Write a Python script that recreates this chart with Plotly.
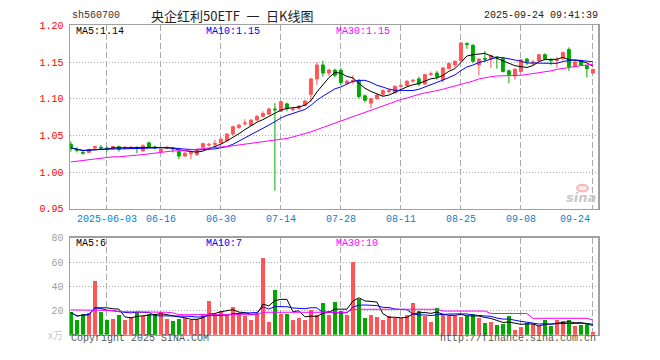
import plotly.graph_objects as go
import pandas as pd

# ---------------- data ----------------
month_days = {
    "05": [23, 26, 27, 28, 29, 30],
    "06": [3, 4, 5, 6, 9, 10, 11, 12, 13, 16, 17, 18, 19, 20, 23, 24, 25, 26, 27, 30],
    "07": [1, 2, 3, 4, 7, 8, 9, 10, 11, 14, 15, 16, 17, 18, 21, 22, 23, 24, 25, 28, 29, 30, 31],
    "08": [1, 4, 5, 6, 7, 8, 11, 12, 13, 14, 15, 18, 19, 20, 21, 22, 25, 26, 27, 28, 29],
    "09": [1, 2, 3, 4, 5, 8, 9, 10, 11, 12, 15, 16, 17, 18, 19, 22, 23, 24],
}
dates = [f"2025-{m}-{d:02d}" for m, ds in month_days.items() for d in ds]

opens = [1.038, 1.031, 1.027, 1.027, 1.033, 1.034, 1.033, 1.032, 1.035, 1.033,
         1.033, 1.034, 1.029, 1.040, 1.034, 1.028, 1.033, 1.033, 1.028, 1.022,
         1.025, 1.024, 1.034, 1.037, 1.038, 1.040, 1.043, 1.052, 1.061, 1.066,
         1.064, 1.071, 1.076, 1.079, 1.086, 1.083, 1.093, 1.085, 1.087, 1.091,
         1.106, 1.127, 1.146, 1.135, 1.139, 1.139, 1.121, 1.123, 1.125, 1.104,
         1.094, 1.100, 1.106, 1.110, 1.108, 1.117, 1.118, 1.124, 1.127, 1.120,
         1.133, 1.135, 1.126, 1.141, 1.146, 1.152, 1.175, 1.173, 1.146, 1.155,
         1.154, 1.157, 1.155, 1.138, 1.131, 1.137, 1.154, 1.149, 1.152, 1.160,
         1.153, 1.152, 1.155, 1.167, 1.144, 1.152, 1.145, 1.135]
highs = [1.042, 1.034, 1.030, 1.032, 1.036, 1.037, 1.035, 1.036, 1.036, 1.035,
         1.035, 1.035, 1.038, 1.041, 1.036, 1.032, 1.035, 1.034, 1.029, 1.027,
         1.029, 1.032, 1.040, 1.040, 1.044, 1.046, 1.053, 1.063, 1.066, 1.072,
         1.072, 1.078, 1.083, 1.088, 1.094, 1.097, 1.095, 1.088, 1.091, 1.098,
         1.128, 1.150, 1.152, 1.141, 1.141, 1.142, 1.126, 1.132, 1.127, 1.106,
         1.101, 1.107, 1.113, 1.114, 1.118, 1.120, 1.125, 1.127, 1.130, 1.134,
         1.137, 1.138, 1.143, 1.149, 1.152, 1.177, 1.177, 1.174, 1.155, 1.165,
         1.160, 1.158, 1.157, 1.140, 1.142, 1.154, 1.156, 1.153, 1.161, 1.162,
         1.155, 1.157, 1.164, 1.170, 1.151, 1.153, 1.146, 1.141]
lows = [1.028, 1.027, 1.024, 1.026, 1.031, 1.031, 1.028, 1.031, 1.028, 1.031,
        1.032, 1.026, 1.028, 1.033, 1.031, 1.027, 1.031, 1.027, 1.018, 1.021,
        1.018, 1.022, 1.033, 1.035, 1.035, 1.039, 1.042, 1.050, 1.059, 1.063,
        1.063, 1.070, 1.075, 1.078, 0.975, 1.082, 1.083, 1.083, 1.085, 1.090,
        1.096, 1.119, 1.130, 1.131, 1.129, 1.118, 1.119, 1.120, 1.100, 1.095,
        1.087, 1.099, 1.104, 1.107, 1.107, 1.115, 1.117, 1.122, 1.117, 1.119,
        1.131, 1.126, 1.122, 1.140, 1.142, 1.151, 1.168, 1.149, 1.132, 1.150,
        1.142, 1.141, 1.136, 1.121, 1.126, 1.136, 1.146, 1.145, 1.151, 1.152,
        1.146, 1.142, 1.152, 1.138, 1.143, 1.145, 1.129, 1.134]
closes = [1.033, 1.030, 1.026, 1.031, 1.035, 1.033, 1.032, 1.035, 1.031, 1.034,
          1.034, 1.033, 1.036, 1.034, 1.033, 1.031, 1.034, 1.032, 1.022, 1.026,
          1.027, 1.030, 1.039, 1.038, 1.039, 1.045, 1.052, 1.062, 1.064, 1.067,
          1.071, 1.076, 1.080, 1.086, 1.085, 1.096, 1.087, 1.086, 1.090, 1.097,
          1.127, 1.146, 1.135, 1.139, 1.132, 1.122, 1.124, 1.125, 1.103, 1.098,
          1.100, 1.105, 1.111, 1.111, 1.117, 1.118, 1.124, 1.125, 1.120, 1.133,
          1.134, 1.130, 1.142, 1.148, 1.151, 1.176, 1.174, 1.151, 1.154, 1.154,
          1.159, 1.156, 1.137, 1.133, 1.140, 1.153, 1.150, 1.150, 1.160, 1.154,
          1.152, 1.153, 1.163, 1.144, 1.150, 1.146, 1.141, 1.140]
# MA30 of price (history before the window not available)
ma30_price = [1.014, 1.015, 1.016, 1.017, 1.018, 1.019, 1.020, 1.021, 1.021, 1.022,
              1.023, 1.024, 1.024, 1.025, 1.026, 1.027, 1.028, 1.029, 1.029, 1.030,
              1.031, 1.031, 1.032, 1.033, 1.034, 1.035, 1.035, 1.036, 1.037, 1.038,
              1.039, 1.040, 1.041, 1.042, 1.044, 1.045, 1.046, 1.048, 1.050, 1.052,
              1.055, 1.058, 1.061, 1.064, 1.067, 1.070, 1.073, 1.076, 1.079, 1.082,
              1.085, 1.088, 1.091, 1.094, 1.097, 1.099, 1.101, 1.104, 1.106, 1.108,
              1.109, 1.111, 1.113, 1.115, 1.117, 1.119, 1.121, 1.124, 1.127, 1.129,
              1.130, 1.131, 1.131, 1.131, 1.131, 1.132, 1.133, 1.134, 1.136, 1.137,
              1.138, 1.140, 1.141, 1.143, 1.144, 1.145, 1.146, 1.147]
volumes = [18.4, 12.5, 17.3, 18.0, 44.5, 18.7, 12.5, 13.3, 16.5, 12.5,
           14.7, 18.4, 15.2, 17.3, 17.3, 18.7, 13.3, 10.9, 13.3, 13.9,
           12.0, 13.3, 17.3, 27.7, 17.3, 19.2, 16.5, 22.7, 17.3, 15.7,
           12.0, 17.3, 63.7, 10.4, 37.3, 17.3, 17.3, 12.5, 14.1, 12.5,
           20.3, 16.0, 26.1, 16.5, 26.9, 19.2, 16.5, 60.0, 29.9, 13.9,
           16.5, 14.7, 11.7, 15.2, 13.9, 13.9, 16.5, 26.1, 19.7, 15.5,
           10.1, 21.9, 17.3, 15.2, 15.2, 14.7, 15.7, 17.3, 13.9, 9.6,
           10.4, 7.7, 8.8, 15.7, 4.0, 6.4, 9.6, 8.5, 6.9, 11.7,
           6.9, 12.5, 10.9, 11.7, 6.9, 7.7, 8.5, 2.4]
ma30_volume = [20.5, 20.5, 20.5, 20, 20, 20, 20, 20, 19, 19,
               19, 19, 18.5, 18.5, 18.5, 18.5, 18.5, 18, 16.5, 16.5,
               16.5, 16.5, 16.5, 16.5, 16.5, 16.5, 16.5, 16.5, 16.5, 16.5,
               16.5, 16.5, 18.5, 18.5, 18.5, 18.5, 18.5, 18.5, 18.5, 18.5,
               18.5, 18.5, 18.5, 18.5, 18.5, 18.5, 18.5, 21, 21, 21,
               21, 21, 21, 21, 21, 21, 21, 21, 21, 21,
               21, 21, 19.5, 19.5, 19.5, 19.5, 19.5, 19.5, 19.5, 19.5,
               17.5, 17.5, 17.5, 17.5, 17.5, 17.5, 17.5, 13.5, 13.5, 13.5,
               13.5, 13.5, 13.5, 13.5, 13.5, 13.5, 13.5, 12]

tick_dates = ["2025-06-03", "2025-06-16", "2025-06-30", "2025-07-14", "2025-07-28",
              "2025-08-11", "2025-08-25", "2025-09-08", "2025-09-24"]
tick_labels = ["2025-06-03", "06-16", "06-30", "07-14", "07-28",
               "08-11", "08-25", "09-08", "09-24"]
price_ticks = [0.95, 1.00, 1.05, 1.10, 1.15, 1.20]
vol_ticks = [20, 40, 60, 80]

code = "sh560700"
title = "央企红利50ETF\u2002一\u2002日K线图"
stamp = "2025-09-24 09:41:39"
price_ma_text = ["MA5:1.14", "MA10:1.15", "MA30:1.15"]
vol_ma_text = ["MA5:6", "MA10:7", "MA30:10"]

# ---------------- derived ----------------
ma5 = pd.Series(closes).rolling(5, min_periods=1).mean()
ma10 = pd.Series(closes).rolling(10, min_periods=1).mean()
vma5 = pd.Series(volumes).rolling(5, min_periods=1).mean()
vma10 = pd.Series(volumes).rolling(10, min_periods=1).mean()

RED = "#FF5555"
GREEN = "#00A800"
vol_colors = [RED if c >= o else GREEN for o, c in zip(opens, closes)]

W, H = 660, 360
X0, X1 = 70, 598
PT, PB = 21, 211
VT, VB = 241, 341
MONO = "Liberation Mono"
GRID = "#ABABAB"
BORDER = "#A0A0A0"

fig = go.Figure()
fig.add_trace(go.Candlestick(
    x=dates, open=opens, high=highs, low=lows, close=closes,
    increasing=dict(line=dict(color=RED, width=1), fillcolor=RED),
    decreasing=dict(line=dict(color=GREEN, width=1), fillcolor=GREEN),
    whiskerwidth=0, xaxis="x", yaxis="y", hoverinfo="skip"))
for vals, col in [(ma5, "#000000"), (ma10, "#0000FF"), (ma30_price, "#FF00FF")]:
    fig.add_trace(go.Scatter(x=dates, y=list(vals), mode="lines",
                             line=dict(color=col, width=1), xaxis="x", yaxis="y",
                             hoverinfo="skip"))
fig.add_trace(go.Bar(x=dates, y=volumes, marker=dict(color=vol_colors, line=dict(width=0)),
                     width=0.8, xaxis="x2", yaxis="y2", hoverinfo="skip"))
for vals, col in [(vma5, "#000000"), (vma10, "#0000FF"), (ma30_volume, "#FF00FF")]:
    fig.add_trace(go.Scatter(x=dates, y=list(vals), mode="lines",
                             line=dict(color=col, width=1), xaxis="x2", yaxis="y2",
                             hoverinfo="skip"))

xdom = [X0 / W, X1 / W]
common_x = dict(type="category", domain=xdom, range=[-0.15, 87.85],
                tickvals=tick_dates, showticklabels=False, ticks="",
                showgrid=True, gridcolor=GRID, griddash="6px,3px", gridwidth=1,
                showline=True, mirror=True, linecolor=BORDER, linewidth=1.5,
                zeroline=False, fixedrange=True)
fig.update_layout(
    width=W, height=H, margin=dict(l=0, r=0, t=0, b=0),
    paper_bgcolor="white", plot_bgcolor="white", showlegend=False,
    bargap=0,
    xaxis=dict(**common_x, anchor="y", rangeslider=dict(visible=False)),
    xaxis2=dict(**common_x, anchor="y2", matches="x"),
    yaxis=dict(domain=[(H - PB) / H, (H - PT) / H], range=[0.95, 1.20],
               tickvals=price_ticks, ticktext=[f"{v:.2f}" for v in price_ticks],
               tickfont=dict(family=MONO, size=10, color="#FF0000"), ticks="",
               ticklabelstandoff=3,
               showgrid=True, gridcolor=GRID, griddash="1px,2px",
               showline=True, mirror=True, linecolor=BORDER, linewidth=1.5,
               zeroline=False, anchor="x", fixedrange=True),
    yaxis2=dict(domain=[(H - VB) / H, (H - VT) / H], range=[0, 80],
                tickvals=vol_ticks, ticktext=[str(v) for v in vol_ticks],
                tickfont=dict(family=MONO, size=10, color="#A0A0A0"), ticks="",
                ticklabelstandoff=3,
                showgrid=True, gridcolor=GRID, griddash="1px,2px",
                showline=True, mirror=True, linecolor=BORDER, linewidth=1.5,
                zeroline=False, anchor="x2", fixedrange=True),
)

def px_x(x):
    return x / W

def px_y(y):
    return (H - y) / H

ann = []
# header
ann.append(dict(text=code, x=px_x(70), y=px_y(11), xanchor="left", yanchor="middle",
                font=dict(family=MONO, size=10, color="#333333")))
ann.append(dict(text=title, x=px_x(149), y=px_y(10.5), xanchor="left", yanchor="middle",
                font=dict(family="Noto Sans CJK SC", size=13, color="#222222")))
ann.append(dict(text=stamp, x=px_x(600), y=px_y(11), xanchor="right", yanchor="middle",
                font=dict(family=MONO, size=10, color="#222222")))
# MA legends
for txt, xp, col in zip(price_ma_text, [74, 204, 334], ["#000000", "#0000FF", "#FF00FF"]):
    ann.append(dict(text=txt, x=px_x(xp), y=px_y(27), xanchor="left", yanchor="middle",
                    font=dict(family=MONO, size=10, color=col)))
for txt, xp, col in zip(vol_ma_text, [74, 204, 334], ["#000000", "#0000FF", "#FF00FF"]):
    ann.append(dict(text=txt, x=px_x(xp), y=px_y(246.5), xanchor="left", yanchor="middle",
                    font=dict(family=MONO, size=10, color=col)))
# date labels
for i, (d, lab) in enumerate(zip(tick_dates, tick_labels)):
    last = i == len(tick_dates) - 1
    ann.append(dict(text=lab, x=d, xref="x", y=px_y(221.5), yref="paper",
                    xanchor="right" if last else "center", yanchor="middle",
                    xshift=-1 if last else 0,
                    font=dict(family=MONO, size=10, color="#0A7FD0")))
# unit + footer
ann.append(dict(text="x万", x=px_x(65), y=px_y(341), xanchor="right", yanchor="middle",
                font=dict(family="Noto Sans CJK SC", size=10, color="#C8C8C8")))
ann.append(dict(text="Copyright 2025 SINA.COM", x=px_x(69), y=px_y(345.5), xanchor="left",
                yanchor="middle", font=dict(family=MONO, size=10, color="#555555")))
ann.append(dict(text="http://finance.sina.com.cn", x=px_x(598), y=px_y(345.5),
                xanchor="right", yanchor="middle",
                font=dict(family=MONO, size=10, color="#555555")))
# watermark
ann.append(dict(text="<b><i>sina</i></b>", x=px_x(581), y=px_y(199), xanchor="center",
                yanchor="middle", font=dict(family="DejaVu Sans", size=13, color="#C8C8C8")))
for a in ann:
    a.setdefault("xref", "paper")
    a.setdefault("yref", "paper")
    a["showarrow"] = False
fig.update_layout(annotations=ann)
fig.add_shape(type="circle", xref="paper", yref="paper",
              x0=px_x(577), x1=px_x(588), y0=px_y(193), y1=px_y(186),
              line=dict(color="rgba(240,120,120,0.5)", width=2),
              fillcolor="rgba(255,200,200,0.4)")

fig.write_html(
    "out.html",
    config={"displayModeBar": False, "staticPlot": True},
    post_script="document.body.style.margin='0px';document.body.style.padding='0px';"
                "document.body.style.overflow='hidden';",
)
